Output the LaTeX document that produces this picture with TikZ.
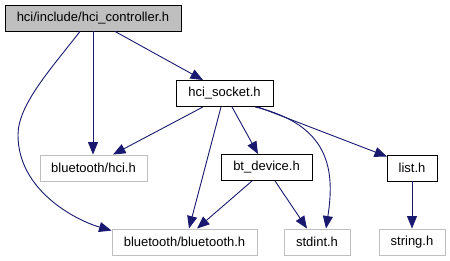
\documentclass[tikz,border=0pt]{standalone}
\usepackage{fontspec}
\setmainfont{Liberation Sans}
\usetikzlibrary{arrows.meta}
\definecolor{edgeblue}{HTML}{191970}
\definecolor{boxgrey}{HTML}{BFBFBF}
\tikzset{
  file/.style={draw=black, fill=white, line width=0.9pt, inner sep=0pt,
    minimum height=26pt, font=\fontsize{13}{15}\selectfont},
  rootfile/.style={file, fill=boxgrey},
  sysfile/.style={file, draw=boxgrey},
  dep/.style={draw=edgeblue, line width=0.9pt,
    -{Triangle[length=12.5pt,width=10pt]}, edgeblue},
}
\begin{document}
\begin{tikzpicture}[x=1pt,y=-1pt]
\useasboundingbox (0,0) rectangle (450,261);

% files
\node[rootfile, minimum width=176pt] (root)   at (93,18)    {hci/include/hci\_controller.h};
\node[file,     minimum width=97pt]  (sock)   at (224.5,93.5) {hci\_socket.h};
\node[sysfile,  minimum width=107pt] (hcih)   at (93.5,168) {bluetooth/hci.h};
\node[file,     minimum width=91pt]  (btdev)  at (266.5,167.5) {bt\_device.h};
\node[file,     minimum width=50pt]  (list)   at (412,168)  {list.h};
\node[sysfile,  minimum width=145pt] (bth)    at (184.5,242) {bluetooth/bluetooth.h};
\node[sysfile,  minimum width=66pt]  (stdint) at (317,242)  {stdint.h};
\node[sysfile,  minimum width=66pt]  (string) at (412,242)  {string.h};

% include relations
\draw[dep] ([xshift=22pt]root.south) -- ([xshift=-21.5pt]sock.north);
\draw[dep] (root.south) -- (hcih.north -| root.south);
\draw[dep] ([xshift=-13pt]root.south)
  .. controls (50,70) and (18,105) .. (18,135)
  .. controls (18,190) and (75,220) .. ([yshift=-2pt]bth.north west);

\draw[dep] ([xshift=-21.5pt]sock.south) -- ([xshift=19.5pt]hcih.north);
\draw[dep] ([xshift=-3.5pt]sock.south) -- ([xshift=4.5pt]bth.north);
\draw[dep] ([xshift=7.5pt]sock.south) -- ([xshift=-8.5pt]btdev.north);
\draw[dep] ([xshift=30.5pt]sock.south)
  .. controls (330,125) and (335,170) .. ([xshift=9pt]stdint.north);
\draw[dep] ([xshift=33.5pt]sock.south) -- ([xshift=-25pt,yshift=-2pt]list.north);

\draw[dep] ([xshift=-14.5pt]btdev.south) -- ([xshift=12.5pt]bth.north);
\draw[dep] ([xshift=8.5pt]btdev.south) -- ([xshift=-10pt]stdint.north);

\draw[dep] (list.south) -- (string.north);
\end{tikzpicture}
\end{document}
